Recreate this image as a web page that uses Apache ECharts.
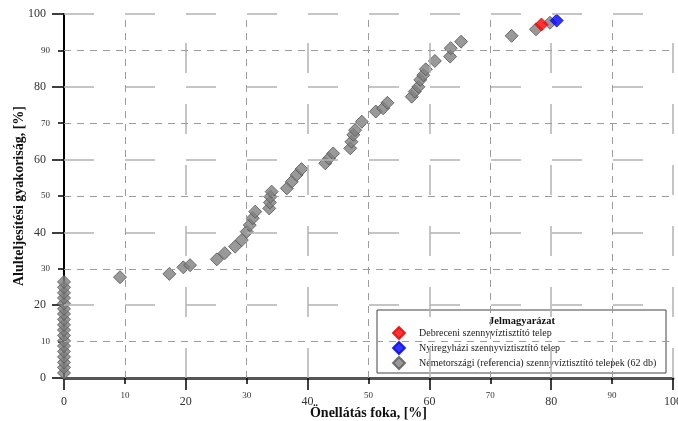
<!DOCTYPE html>
<html>
<head>
<meta charset="utf-8">
<script src="https://cdn.jsdelivr.net/npm/echarts@6/dist/echarts.min.js"></script>
<style>html,body{margin:0;padding:0;background:#fff}#c{width:678px;height:421px}</style>
</head>
<body>
<div id="c"></div>
<script>
// ---- data ----
var germanX = [0,0,0,0,0,0,0,0,0,0,0,0,0,0,0,0,0,0,
  9.2,17.3,19.6,20.7,25.1,26.4,28.1,29.2,30.0,30.5,31.0,31.4,33.7,33.8,33.9,34.1,36.6,37.4,38.2,39.0,
  42.9,43.5,44.2,47.0,47.2,47.5,47.8,48.9,51.2,52.4,53.1,57.1,57.6,58.2,58.5,59.0,59.4,60.9,63.4,63.5,65.2,73.5,77.5,79.8];
var germanY = [1.4,2.9,4.3,5.8,7.3,8.8,10.2,11.7,13.2,14.6,16.1,17.6,19.0,20.5,22.0,23.4,24.9,26.4,
  27.7,28.6,30.4,31.0,32.6,34.3,36.1,37.9,40.2,42.0,43.9,45.7,46.6,48.2,49.8,51.2,52.1,53.9,55.8,57.4,
  59.0,60.3,61.7,63.1,64.9,66.8,68.1,70.4,73.2,74.1,75.6,77.3,78.7,80.0,81.9,83.2,84.8,87.1,88.3,90.6,92.4,94.0,95.8,97.6];
var debrecenX = [78.4];
var debrecenY = [97.1];
var nyiregyhazaX = [80.9];
var nyiregyhazaY = [98.2];
var seriesNames = [
  'Debreceni szennyvíztisztító telep',
  'Nyiregyházi szennyviztisztító telep',
  'Németországi (referencia) szennyvíztisztító telepek (62 db)'
];
var majorTicks = [20, 40, 60, 80, 100];
var minorTicks = [10, 30, 50, 70, 90];
var xTitle = 'Önellátás foka, [%]';
var yTitle = 'Alulteljesítési gyakoriság, [%]';
var legendTitle = 'Jelmagyarázat';

function zip(xs, ys) { return xs.map(function (x, i) { return [x, ys[i]]; }); }

var SERIF = '"Liberation Serif", "DejaVu Serif", serif';
var majorStyle = { type: [30, 31], width: 1.5, color: '#b3b3b3' };
var minorStyle = { type: [7, 6], width: 1, color: '#9c9c9c' };

var gridLines = [];
majorTicks.forEach(function (v) {
  gridLines.push([{ coord: [0, v], lineStyle: majorStyle }, { coord: [100, v] }]);
  gridLines.push([{ coord: [v, 0], lineStyle: majorStyle }, { coord: [v, 100] }]);
});
minorTicks.forEach(function (v) {
  gridLines.push([{ coord: [0, v], lineStyle: minorStyle }, { coord: [100, v] }]);
  gridLines.push([{ coord: [v, 0], lineStyle: minorStyle }, { coord: [v, 100] }]);
});

var chart = echarts.init(document.getElementById('c'), null, { renderer: 'canvas' });
var baseAxis = {
  type: 'value', min: 0, max: 100, interval: 20,
  splitLine: { show: false },
  axisTick: { show: true, length: 12, lineStyle: { color: '#000', width: 1.5 } },
  minorTick: { show: true, splitNumber: 2, length: 6, lineStyle: { color: '#000', width: 1.5 } },
  axisLabel: { fontFamily: SERIF, fontSize: 12, color: '#333' },
  nameTextStyle: { fontFamily: SERIF, fontSize: 14, fontWeight: 'bold', color: '#111' },
  nameLocation: 'middle',
  nameMoveOverlap: false
};
var oddAxis = {
  type: 'value', min: 0, max: 100, interval: 10,
  axisLine: { show: false }, axisTick: { show: false }, splitLine: { show: false },
  axisLabel: { fontFamily: SERIF, fontSize: 9, color: '#333',
    formatter: function (v) { return v % 20 === 0 ? '' : String(v); } }
};

chart.setOption({
  animation: false,
  backgroundColor: '#fff',
  grid: { left: 64, right: 5, top: 14, bottom: 43, containLabel: false, outerBoundsMode: 'none' },
  xAxis: [
    Object.assign({}, baseAxis, {
      position: 'bottom',
      name: xTitle, nameGap: 28,
      axisLine: { show: true, onZero: false, lineStyle: { color: '#555', width: 3 } },
      axisLabel: Object.assign({}, baseAxis.axisLabel, { margin: 18 })
    }),
    Object.assign({}, oddAxis, { position: 'bottom',
      axisLabel: Object.assign({}, oddAxis.axisLabel, { margin: 13 }) })
  ],
  yAxis: [
    Object.assign({}, baseAxis, {
      position: 'left',
      name: yTitle, nameGap: 38,
      axisLine: { show: true, onZero: false, lineStyle: { color: '#000', width: 2 } },
      axisLabel: Object.assign({}, baseAxis.axisLabel, { margin: 18 })
    }),
    Object.assign({}, oddAxis, { position: 'left',
      axisLabel: Object.assign({}, oddAxis.axisLabel, { margin: 14 }) })
  ],
  legend: {
    orient: 'vertical', left: 392, top: 326, padding: 0,
    icon: 'diamond', itemWidth: 12, itemHeight: 12, itemGap: 1,
    textStyle: { fontFamily: SERIF, fontSize: 10, color: '#222', padding: [0, 0, 0, 9] },
    data: seriesNames
  },
  graphic: [
    { type: 'rect', z: 3, silent: true,
      shape: { x: 377, y: 310, width: 289, height: 63 },
      style: { fill: '#fff', stroke: '#444', lineWidth: 1 } },
    { type: 'text', z: 4, silent: true, x: 522, y: 321,
      style: { text: legendTitle, fontFamily: SERIF, fontSize: 10.5, fontWeight: 'bold',
        fill: '#111', textAlign: 'center', textVerticalAlign: 'middle' } }
  ],
  series: [
    { type: 'scatter', name: 'grid', data: [], z: 1, silent: true,
      markLine: { silent: true, symbol: ['none', 'none'], label: { show: false },
        animation: false, data: gridLines } },
    { type: 'scatter', name: seriesNames[2], data: zip(germanX, germanY), z: 2,
      symbol: 'diamond', symbolSize: 13,
      itemStyle: { color: '#7f7f7f', borderColor: '#555', borderWidth: 1 } },
    { type: 'scatter', name: seriesNames[0], data: zip(debrecenX, debrecenY), z: 2,
      symbol: 'diamond', symbolSize: 13,
      itemStyle: { color: '#ff0000', borderColor: '#e00000', borderWidth: 1 } },
    { type: 'scatter', name: seriesNames[1], data: zip(nyiregyhazaX, nyiregyhazaY), z: 2,
      symbol: 'diamond', symbolSize: 13,
      itemStyle: { color: '#0000ff', borderColor: '#0000dd', borderWidth: 1 } }
  ]
});
</script>
</body>
</html>
